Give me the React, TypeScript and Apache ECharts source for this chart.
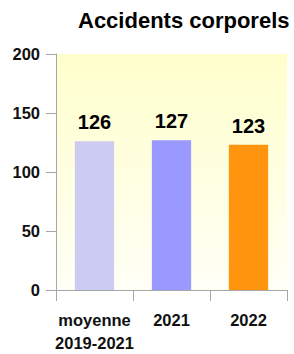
import React, { useEffect, useRef } from "react";
import * as echarts from "echarts";

const categories = ["moyenne\n2019-2021", "2021", "2022"];
const values = [126, 127, 123];
const barColors = ["#ccccf2", "#9999ff", "#ff940e"];
const yTicks = { min: 0, max: 200, interval: 50 };
const titleText = "Accidents corporels";

export default function App() {
  const ref = useRef<HTMLDivElement>(null);
  useEffect(() => {
    if (!ref.current) return;
    const chart = echarts.init(ref.current, undefined, { renderer: "svg" });
    const font = "'Liberation Sans', Arial, sans-serif";
    chart.setOption({
      animation: false,
      title: {
        text: titleText,
        left: 78,
        top: 9,
        padding: 0,
        textStyle: { fontFamily: font, fontWeight: "bold", fontSize: 22, color: "#000" },
      },
      grid: {
        left: 56,
        right: 7,
        top: 54,
        bottom: 60,
        show: true,
        borderWidth: 0,
        backgroundColor: new echarts.graphic.LinearGradient(0, 0, 0, 1, [
          { offset: 0, color: "#ffffcc" },
          { offset: 1, color: "#fffff6" },
        ]),
      },
      xAxis: {
        type: "category",
        data: categories,
        axisLine: { show: true, lineStyle: { color: "#a6a6a6", width: 1 } },
        axisTick: { show: true, length: 11, lineStyle: { color: "#a6a6a6" } },
        axisLabel: {
          fontFamily: font,
          fontWeight: "bold",
          fontSize: 16.5,
          lineHeight: 23,
          color: "#111",
          margin: 18,
          interval: 0,
        },
      },
      yAxis: {
        type: "value",
        min: yTicks.min,
        max: yTicks.max,
        interval: yTicks.interval,
        splitLine: { show: false },
        axisLine: { show: true, lineStyle: { color: "#a6a6a6", width: 1 } },
        axisTick: { show: true, length: 10, lineStyle: { color: "#a6a6a6" } },
        axisLabel: {
          fontFamily: font,
          fontWeight: "bold",
          fontSize: 16.5,
          color: "#111",
          margin: 16,
        },
      },
      series: [
        {
          type: "bar",
          barWidth: "51%",
          data: values.map((v, i) => ({ value: v, itemStyle: { color: barColors[i] } })),
          label: {
            show: true,
            position: "top",
            distance: 9,
            fontFamily: font,
            fontWeight: "bold",
            fontSize: 20,
            color: "#000",
          },
        },
      ],
    });
    return () => chart.dispose();
  }, []);
  return <div ref={ref} style={{ width: 294, height: 354, position: "absolute", left: 0, top: 0 }} />;
}
